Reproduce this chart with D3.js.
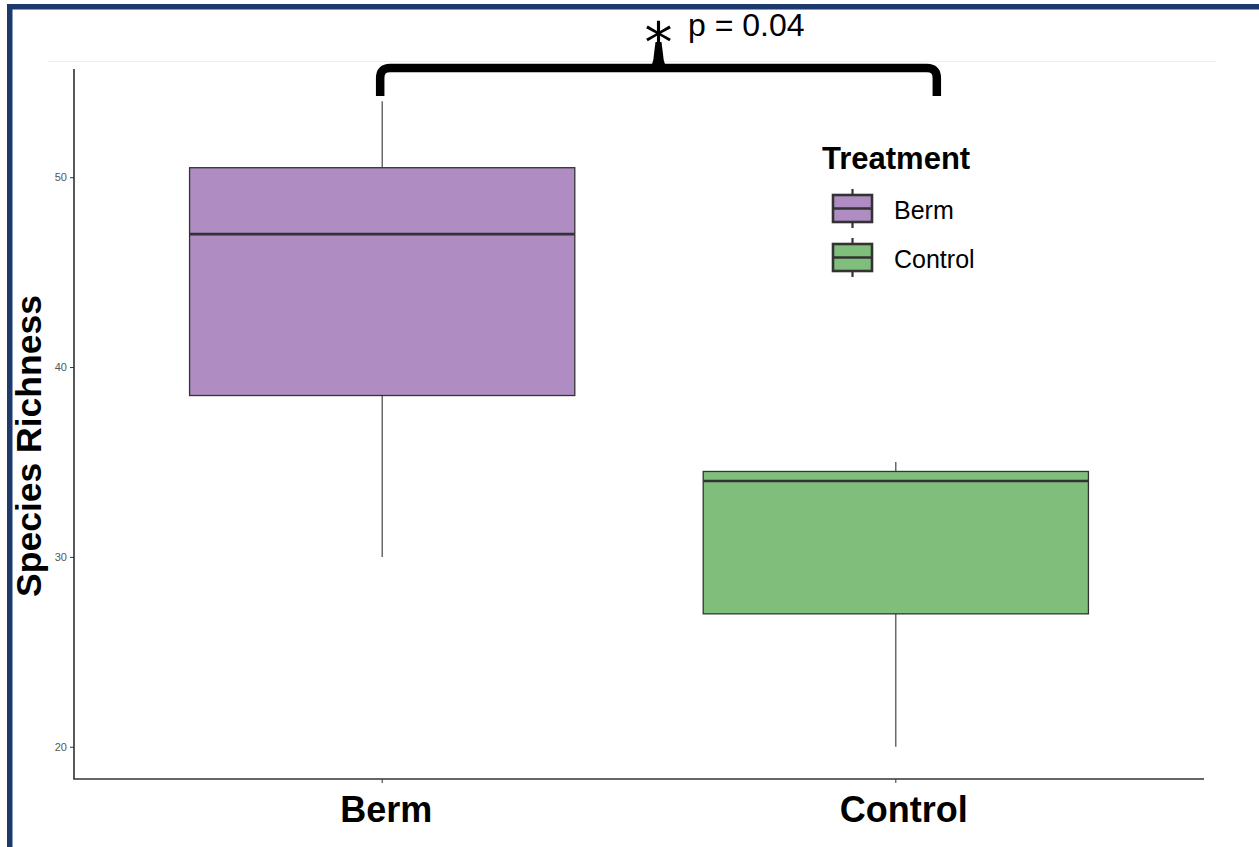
<!DOCTYPE html>
<html>
<head>
<meta charset="utf-8">
<script src="https://cdn.jsdelivr.net/npm/d3@7"></script>
<style>
html,body{margin:0;padding:0;background:#fff;}
svg{display:block;font-family:"Liberation Sans",Arial,sans-serif;}
</style>
</head>
<body>
<svg id="chart" width="1259" height="847"></svg>
<script>
// ---- data ----
const categories = ["Berm", "Control"];
const whiskerLow = [30, 20];
const q1 = [38.5, 27];
const median = [47, 34];
const q3 = [50.5, 34.5];
const whiskerHigh = [54, 35];
const fills = ["#af8dc3", "#7fbf7b"];
const yTicks = [20, 30, 40, 50];
const legendTitle = "Treatment";
const pLabel = "p = 0.04";
const yTitle = "Species Richness";

(function () {
const svg = d3.select("#chart");

// frame border
svg.append("rect").attr("x", 0).attr("y", 0).attr("width", 1259).attr("height", 847).attr("fill", "#fff");
svg.append("rect").attr("x", 7).attr("y", 4).attr("width", 1252).attr("height", 5.5).attr("fill", "#1c3a6c");
svg.append("rect").attr("x", 7).attr("y", 4).attr("width", 5.5).attr("height", 843).attr("fill", "#1c3a6c");
// faint line
svg.append("line").attr("x1", 48).attr("x2", 1216).attr("y1", 61.5).attr("y2", 61.5)
  .attr("stroke", "#eeeeee").attr("stroke-width", 1);

const pLeft = 74, pRight = 1204, pTop = 69, pBottom = 779;

const dmin = d3.min(whiskerLow), dmax = d3.max(whiskerHigh);
const pad = (dmax - dmin) * 0.05;
const y = d3.scaleLinear().domain([dmin - pad, dmax + pad]).range([pBottom, pTop]);

const xc = d3.scaleLinear().domain([0.4, categories.length + 0.6]).range([pLeft, pRight]);
const unit = xc(2) - xc(1);
const boxW = unit * 0.75;

const g = svg.append("g");

categories.forEach((c, i) => {
  const cx = xc(i + 1);
  g.append("line").attr("x1", cx).attr("x2", cx).attr("y1", y(q3[i])).attr("y2", y(whiskerHigh[i]))
    .attr("stroke", "#333").attr("stroke-width", 1.1);
  g.append("line").attr("x1", cx).attr("x2", cx).attr("y1", y(q1[i])).attr("y2", y(whiskerLow[i]))
    .attr("stroke", "#333").attr("stroke-width", 1.1);
  g.append("rect").attr("x", cx - boxW / 2).attr("y", y(q3[i]))
    .attr("width", boxW).attr("height", y(q1[i]) - y(q3[i]))
    .attr("fill", fills[i]).attr("stroke", "#333").attr("stroke-width", 1.3);
  g.append("line").attr("x1", cx - boxW / 2).attr("x2", cx + boxW / 2)
    .attr("y1", y(median[i])).attr("y2", y(median[i]))
    .attr("stroke", "#333").attr("stroke-width", 2.6);
});

// axes
const yAxis = d3.axisLeft(y).tickValues(yTicks).tickSize(4).tickPadding(3);
const ya = svg.append("g").attr("transform", `translate(${pLeft},0)`).call(yAxis);
ya.select(".domain").remove();
ya.selectAll(".tick line").attr("stroke", "#333").attr("stroke-width", 1);
ya.selectAll(".tick text").attr("fill", "#555555").style("font-size", "11px")
  .style("font-family", "'Liberation Sans', Arial, sans-serif");

svg.append("line").attr("x1", pLeft).attr("x2", pLeft).attr("y1", pTop).attr("y2", pBottom)
  .attr("stroke", "#222").attr("stroke-width", 1.5);
svg.append("line").attr("x1", pLeft - 0.75).attr("x2", pRight).attr("y1", pBottom).attr("y2", pBottom)
  .attr("stroke", "#333").attr("stroke-width", 1.6);

categories.forEach((c, i) => {
  const cx = xc(i + 1);
  svg.append("line").attr("x1", cx).attr("x2", cx).attr("y1", pBottom).attr("y2", pBottom + 4)
    .attr("stroke", "#333").attr("stroke-width", 1);
  svg.append("text").attr("x", cx + 4 + i * 4).attr("y", 822).attr("text-anchor", "middle")
    .style("font-size", "36px").style("font-weight", "bold").attr("fill", "#000").text(c);
});

// y title
svg.append("text").attr("transform", "translate(41,446) rotate(-90)").attr("text-anchor", "middle")
  .style("font-size", "35.5px").style("font-weight", "bold").attr("fill", "#000").text(yTitle);

// legend
const lg = svg.append("g");
lg.append("text").attr("x", 822).attr("y", 169).style("font-size", "31px").style("font-weight", "bold")
  .attr("fill", "#000").text(legendTitle);
categories.forEach((c, i) => {
  const ky = 195 + i * 49;
  const kx = 833, kw = 39, kh = 27;
  lg.append("line").attr("x1", kx + kw / 2).attr("x2", kx + kw / 2).attr("y1", ky - 6).attr("y2", ky + kh + 6)
    .attr("stroke", "#333").attr("stroke-width", 2.2);
  lg.append("rect").attr("x", kx).attr("y", ky).attr("width", kw).attr("height", kh)
    .attr("fill", fills[i]).attr("stroke", "#333").attr("stroke-width", 2.6);
  lg.append("line").attr("x1", kx).attr("x2", kx + kw).attr("y1", ky + kh / 2).attr("y2", ky + kh / 2)
    .attr("stroke", "#333").attr("stroke-width", 2.6);
  lg.append("text").attr("x", 894).attr("y", ky + 24).style("font-size", "25px").attr("fill", "#000").text(c);
});

// significance bracket
const bx1 = xc(1) - 2, bx2 = xc(2) + 41, bmid = (bx1 + bx2) / 2, by = 68;
svg.append("path")
  .attr("d", `M${bx1},96 L${bx1},${by + 10} Q${bx1},${by} ${bx1 + 10},${by} L${bx2 - 10},${by} Q${bx2},${by} ${bx2},${by + 10} L${bx2},96`)
  .attr("fill", "none").attr("stroke", "#000").attr("stroke-width", 8.5);
svg.append("path")
  .attr("d", `M${bmid - 12},${by + 4} Q${bmid - 5},${by - 2} ${bmid - 4.5},${by - 14} L${bmid - 3},42 L${bmid + 3},42 L${bmid + 4.5},${by - 14} Q${bmid + 5},${by - 2} ${bmid + 12},${by + 4} Z`)
  .attr("fill", "#000");
svg.append("text").attr("x", bmid).attr("y", 62).attr("text-anchor", "middle")
  .style("font-size", "56px").style("font-family", "'DejaVu Sans', sans-serif").attr("fill", "#000").text("*");
svg.append("text").attr("x", 688).attr("y", 36).style("font-size", "32px").attr("fill", "#000").text(pLabel);
})();
</script>
</body>
</html>
